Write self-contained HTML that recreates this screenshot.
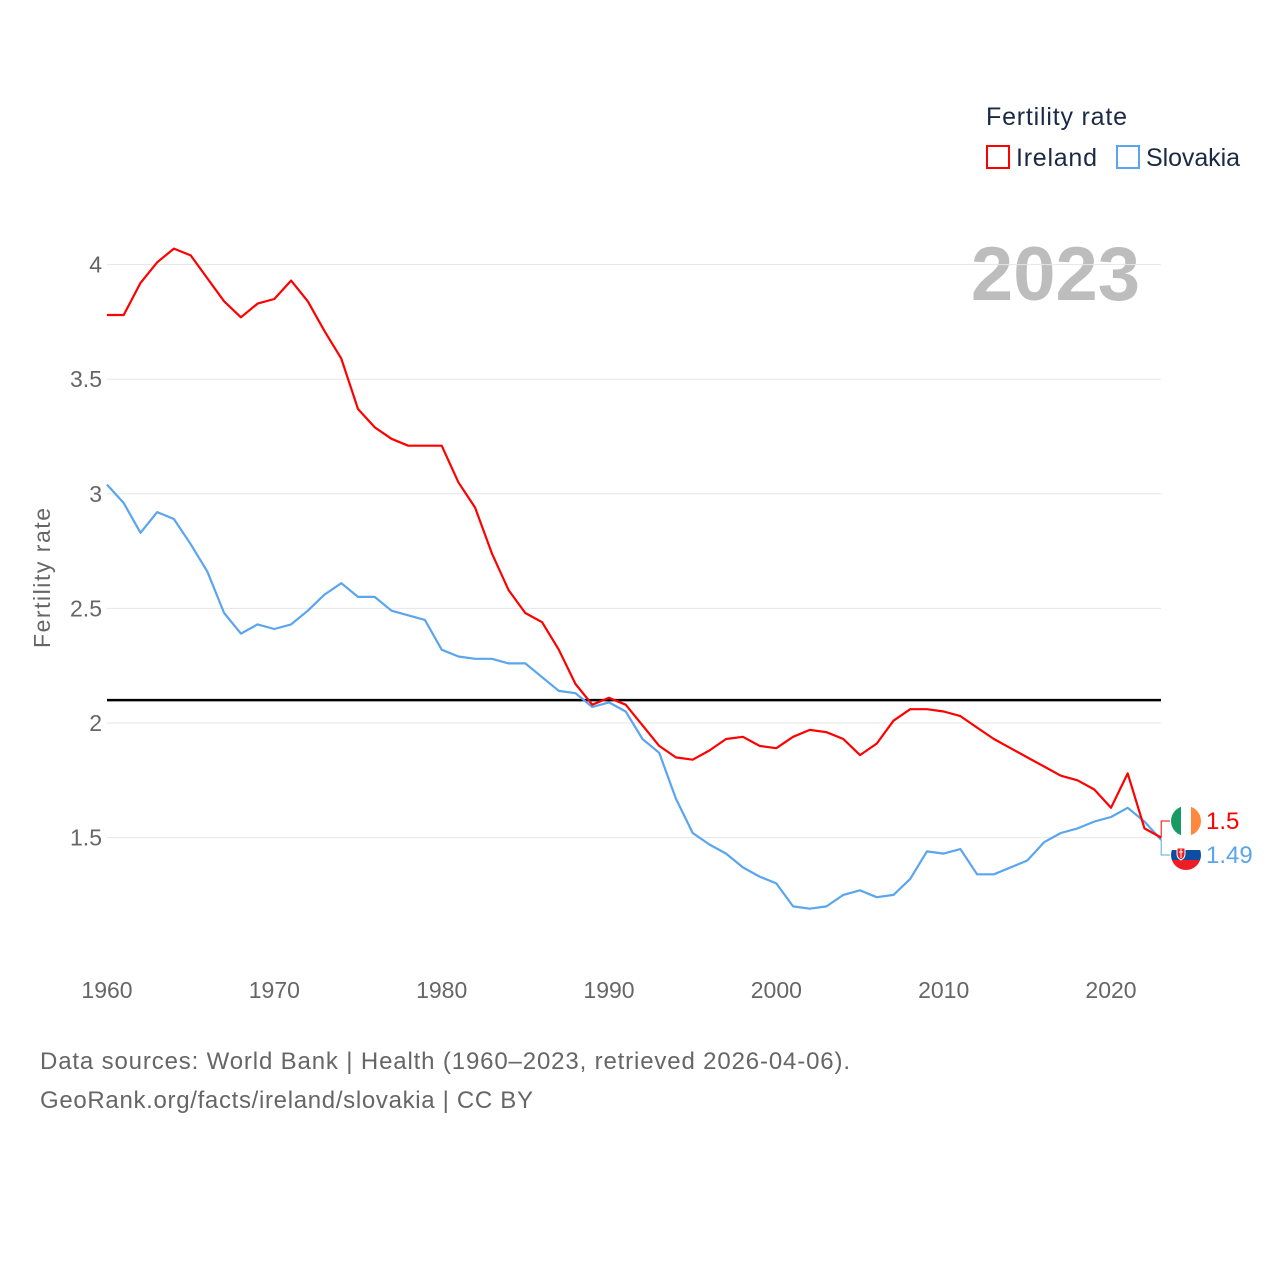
<!DOCTYPE html>
<html><head><meta charset="utf-8">
<style>
body{margin:0;background:#fff;}
svg{display:block;font-family:"Liberation Sans",sans-serif;}
</style></head>
<body>
<svg id="chart" width="1280" height="1280" viewBox="0 0 1280 1280">
<text x="986" y="125" font-size="25" fill="#1a2a44" textLength="141">Fertility rate</text>
<g>
<rect x="987" y="146" width="22" height="22" fill="none" stroke="#ff0000" stroke-width="2"/>
<text x="1016" y="166" font-size="25" fill="#1a2a44" textLength="81">Ireland</text></g>
<g>
<rect x="1117" y="146" width="22" height="22" fill="none" stroke="#5aa5ee" stroke-width="2"/>
<text x="1146" y="166" font-size="25" fill="#1a2a44" textLength="94">Slovakia</text></g>
<text x="1140" y="300" font-size="76" font-weight="bold" fill="#bdbdbd" text-anchor="end">2023</text>
<text transform="translate(50,578) rotate(-90)" font-size="23" fill="#666" text-anchor="middle" textLength="140">Fertility rate</text>
<g id="grid"></g><g id="yticks"></g><g id="xticks"></g><g id="lines"></g>
<text x="40" y="1069" font-size="24" fill="#666" textLength="810">Data sources: World Bank | Health (1960–2023, retrieved 2026-04-06).</text>
<text x="40" y="1108" font-size="24" fill="#666" textLength="493">GeoRank.org/facts/ireland/slovakia | CC BY</text>
</svg>
<script>
const years=[];for(let y=1960;y<=2023;y++)years.push(y);
const ireland=[3.78,3.78,3.92,4.01,4.07,4.04,3.94,3.84,3.77,3.83,3.85,3.93,3.84,3.71,3.59,3.37,3.29,3.24,3.21,3.21,3.21,3.05,2.94,2.74,2.58,2.48,2.44,2.32,2.17,2.08,2.11,2.08,1.99,1.90,1.85,1.84,1.88,1.93,1.94,1.90,1.89,1.94,1.97,1.96,1.93,1.86,1.91,2.01,2.06,2.06,2.05,2.03,1.98,1.93,1.89,1.85,1.81,1.77,1.75,1.71,1.63,1.78,1.54,1.50];
const slovakia=[3.04,2.96,2.83,2.92,2.89,2.78,2.66,2.48,2.39,2.43,2.41,2.43,2.49,2.56,2.61,2.55,2.55,2.49,2.47,2.45,2.32,2.29,2.28,2.28,2.26,2.26,2.20,2.14,2.13,2.07,2.09,2.05,1.93,1.87,1.67,1.52,1.47,1.43,1.37,1.33,1.30,1.20,1.19,1.20,1.25,1.27,1.24,1.25,1.32,1.44,1.43,1.45,1.34,1.34,1.37,1.40,1.48,1.52,1.54,1.57,1.59,1.63,1.57,1.49];
const yTicks=[1.5,2,2.5,3,3.5,4];
const yTickLabels=["1.5","2","2.5","3","3.5","4"];
const xTicks=[1960,1970,1980,1990,2000,2010,2020];
const refLine=2.1;
const NS="http://www.w3.org/2000/svg";
const X=y=>107+(y-1960)*(1004/60);
const Y=v=>723-(v-2)*229.2;
function mk(tag,attrs,parent){const e=document.createElementNS(NS,tag);for(const k in attrs)e.setAttribute(k,attrs[k]);parent.appendChild(e);return e;}
const grid=document.getElementById('grid'),yt=document.getElementById('yticks'),xt=document.getElementById('xticks'),ln=document.getElementById('lines');
yTicks.forEach((v,i)=>{
 const g=mk('line',{x1:107,x2:1161,y1:Y(v),y2:Y(v),stroke:'#e6e6e6','stroke-width':1},grid);
 
 
 const t=mk('text',{x:102,y:Y(v)+8,'font-size':23,fill:'#666','text-anchor':'end'},yt);
 t.textContent=yTickLabels[i];
 
 
});
xTicks.forEach(v=>{
 const t=mk('text',{x:X(v),y:998,'font-size':23,fill:'#666','text-anchor':'middle'},xt);
 t.textContent=v;
 
 
});
const r=mk('line',{x1:107,x2:1161,y1:Y(refLine),y2:Y(refLine),stroke:'#000','stroke-width':2.5},ln);


function series(vals,color,name){
 const d=vals.map((v,i)=>(i?'L':'M')+X(years[i]).toFixed(1)+','+Y(v).toFixed(1)).join('');
 const p=mk('path',{d:d,fill:'none',stroke:color,'stroke-width':2.2,'stroke-linejoin':'round'},ln);
 
 
}
series(slovakia,'#5aa5ee','slovakia-line');
series(ireland,'#ff0000','ireland-line');
const lastI=ireland[ireland.length-1],lastS=slovakia[slovakia.length-1];
const ex=X(2023);
const ly1=821,ly2=855;
mk('path',{d:`M${ex},${Y(lastI)}V${ly1}H1170`,fill:'none',stroke:'#ff0000','stroke-width':1},ln);
mk('path',{d:`M${ex},${Y(lastS)}V${ly2}H1170`,fill:'none',stroke:'#5aa5ee','stroke-width':1},ln);
const defs=mk('defs',{},ln);
const c1=mk('clipPath',{id:'cf1'},defs);mk('circle',{cx:1186,cy:ly1,r:15},c1);
const c2=mk('clipPath',{id:'cf2'},defs);mk('circle',{cx:1186,cy:ly2,r:15},c2);
const f1=mk('g',{'clip-path':'url(#cf1)'},ln);


mk('rect',{x:1171,y:ly1-15,width:10,height:30,fill:'#169b62'},f1);
mk('rect',{x:1181,y:ly1-15,width:10,height:30,fill:'#fff'},f1);
mk('rect',{x:1191,y:ly1-15,width:10,height:30,fill:'#ff883e'},f1);
const f2=mk('g',{'clip-path':'url(#cf2)'},ln);


mk('rect',{x:1171,y:ly2-15,width:30,height:10,fill:'#fff'},f2);
mk('rect',{x:1171,y:ly2-5,width:30,height:10,fill:'#0b4ea2'},f2);
mk('rect',{x:1171,y:ly2+5,width:30,height:10,fill:'#ee1c25'},f2);
mk('path',{d:`M1177,${ly2-7}h8v6q0,4,-4,6q-4,-2,-4,-6z`,fill:'#ee1c25',stroke:'#fff','stroke-width':1},f2);
mk('path',{d:`M1181,${ly2-6}v9M1179,${ly2-3}h4`,stroke:'#fff','stroke-width':1},f2);
const t1=mk('text',{x:1206,y:ly1+8,'font-size':24,fill:'#ff0000'},ln);
t1.textContent=lastI.toString();


const t2=mk('text',{x:1206,y:ly2+8,'font-size':24,fill:'#5aa5ee'},ln);
t2.textContent=lastS.toString();


</script>
</body></html>
